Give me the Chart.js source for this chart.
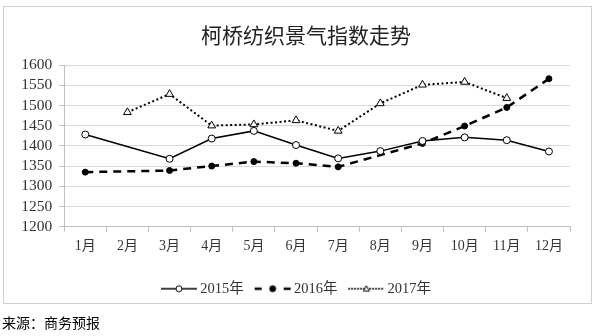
<!DOCTYPE html>
<html>
<head>
<meta charset="utf-8">
<script src="https://cdn.jsdelivr.net/npm/chart.js@4/dist/chart.umd.min.js"></script>
<style>
  body { margin: 0; width: 596px; height: 336px; position: relative; background: #fff; overflow: hidden; }
  #frame { position: absolute; left: 3px; top: 6px; width: 587px; height: 296px; border: 1px solid #d0d0d0; }
  #chart { position: absolute; left: 0; top: 0; }
  #source { position: absolute; left: 2px; top: 312px; font: 14px "Noto Sans CJK SC"; line-height: 20px; color: #000; }
</style>
</head>
<body>
<div id="frame"></div>
<canvas id="chart" width="596" height="336"></canvas>
<div id="source">来源：商务预报</div>
<script>
const chartTitle = '柯桥纺织景气指数走势';
const months = ['1月', '2月', '3月', '4月', '5月', '6月', '7月', '8月', '9月', '10月', '11月', '12月'];
const seriesNames = ['2015年', '2016年', '2017年'];
const index2015 = [1428, null, 1368, 1418, 1437, 1402, 1369, 1387, 1412, 1421, 1414, 1386];
const index2016 = [1335, null, 1339, 1350, 1361, 1357, 1348, null, 1406, 1449, 1495, 1566];
const index2017 = [null, 1483, 1528, 1450, 1453, 1463, 1437, 1505, 1551, 1558, 1518, null];
const yTicks = [1200, 1250, 1300, 1350, 1400, 1450, 1500, 1550, 1600];

const serif = '"Liberation Serif", "Noto Sans CJK SC"';

// small line + marker picture used as the legend symbol
function legendSample(ds, dash) {
  const c = document.createElement('canvas');
  c.width = 38; c.height = 12;
  const g = c.getContext('2d');
  g.strokeStyle = '#000';
  g.lineWidth = ds.borderWidth;
  g.setLineDash(dash);
  g.beginPath();
  g.moveTo(1, 6);
  g.lineTo(37, 6);
  g.stroke();
  g.setLineDash([]);
  g.lineWidth = 1;
  g.fillStyle = ds.pointBackgroundColor;
  g.beginPath();
  if (ds.pointStyle === 'triangle') {
    const r = 3.5;
    let rad = 0;
    g.moveTo(19 + Math.sin(rad) * r, 6.5 - Math.cos(rad) * r);
    rad += Math.PI * 2 / 3;
    g.lineTo(19 + Math.sin(rad) * r, 6.5 - Math.cos(rad) * r);
    rad += Math.PI * 2 / 3;
    g.lineTo(19 + Math.sin(rad) * r, 6.5 - Math.cos(rad) * r);
    g.closePath();
  } else {
    g.arc(19, 6, 3, 0, Math.PI * 2);
  }
  g.fill();
  g.stroke();
  return c;
}

const legendDashes = [[], [7, 22], [1.5, 1.5]];

const titlePlugin = {
  id: 'chartTitle',
  // legend box is centred under the frame, not under the plot area
  afterLayout(chart) {
    chart.legend.left += 8;
    chart.legend.right += 8;
  },
  afterDraw(chart) {
    const ctx = chart.ctx;
    ctx.save();
    ctx.font = '21px "Noto Sans CJK SC"';
    ctx.fillStyle = '#222';
    ctx.textAlign = 'center';
    ctx.textBaseline = 'middle';
    ctx.fillText(chartTitle, 306, 35);
    ctx.restore();
  }
};

new Chart(document.getElementById('chart'), {
  type: 'line',
  data: {
    labels: months,
    datasets: [{
      label: seriesNames[0],
      data: index2015,
      borderColor: '#000',
      borderWidth: 1.5,
      pointStyle: 'circle',
      pointRadius: 3.5,
      pointBackgroundColor: '#fff',
      pointBorderColor: '#000',
      pointBorderWidth: 1,
      spanGaps: true
    }, {
      label: seriesNames[1],
      data: index2016,
      borderColor: '#000',
      borderWidth: 2.5,
      borderDash: [8, 6],
      pointStyle: 'circle',
      pointRadius: 3,
      pointBackgroundColor: '#000',
      pointBorderColor: '#000',
      pointBorderWidth: 1,
      spanGaps: true
    }, {
      label: seriesNames[2],
      data: index2017,
      borderColor: '#000',
      borderWidth: 2,
      borderDash: [2, 2.5],
      pointStyle: 'triangle',
      pointRadius: 4.5,
      pointBackgroundColor: '#fff',
      pointBorderColor: '#000',
      pointBorderWidth: 1
    }]
  },
  options: {
    responsive: false,
    animation: false,
    layout: { padding: { top: 65, bottom: 30, left: 10, right: 26 } },
    plugins: {
      title: { display: false },
      tooltip: { enabled: false },
      legend: {
        position: 'bottom',
        labels: {
          usePointStyle: true,
          pointStyleWidth: 28,
          padding: 15,
          color: '#333',
          font: { family: serif, size: 14.5 },
          generateLabels(chart) {
            return chart.data.datasets.map((ds, i) => ({
              text: ds.label,
              datasetIndex: i,
              pointStyle: legendSample(ds, legendDashes[i]),
              fillStyle: '#000',
              strokeStyle: '#000',
              lineWidth: 0,
              fontColor: '#333',
              hidden: false
            }));
          }
        }
      }
    },
    scales: {
      x: {
        offset: true,
        afterFit(scale) { scale.height = 39.8; },
        grid: { drawOnChartArea: false, offset: true, tickLength: 5, tickColor: '#bfbfbf' },
        border: { color: '#bfbfbf' },
        ticks: { color: '#333', padding: 6, maxRotation: 0, font: { family: serif, size: 14 } }
      },
      y: {
        min: yTicks[0],
        max: yTicks[yTicks.length - 1],
        afterFit(scale) { scale.width = 54.2; },
        afterBuildTicks(scale) { scale.ticks = yTicks.map(v => ({ value: v })); },
        grid: { color: '#d9d9d9', tickLength: 5, tickColor: '#bfbfbf' },
        border: { color: '#bfbfbf' },
        ticks: {
          color: '#333',
          padding: 7,
          autoSkip: false,
          font: { family: serif, size: 15.5 },
          callback: v => String(v)
        }
      }
    }
  },
  plugins: [titlePlugin]
});
</script>
</body>
</html>
